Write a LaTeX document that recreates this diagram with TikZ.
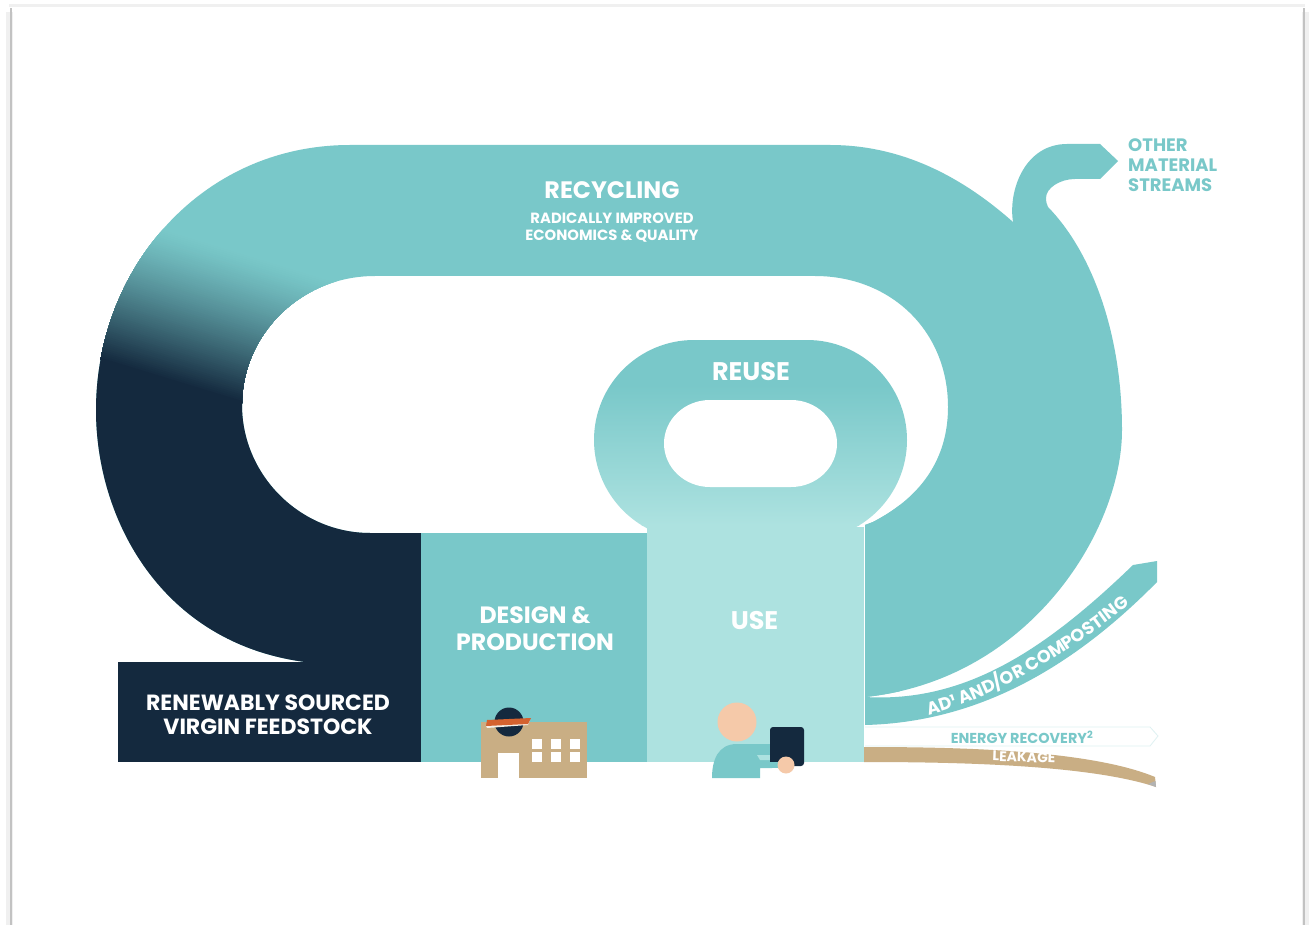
\documentclass[tikz,border=0pt]{standalone}
\usepackage{fontspec}
\setmainfont{Poppins}
\usetikzlibrary{decorations.text}
\definecolor{teal}{HTML}{79C8C9}
\definecolor{lightt}{HTML}{ADE2E0}
\definecolor{navy}{HTML}{14293E}
\definecolor{tan}{HTML}{C9AE84}
\definecolor{skin}{HTML}{F5C9A9}
\definecolor{orangeb}{HTML}{D4622F}
\tikzset{
  wlabel/.style={text=white,align=center,inner sep=0pt},
  tlabel/.style={text=teal,align=left,inner sep=0pt},
}
\newcommand{\loopouter}{(305,662) .. controls (162,643) and (96,520) .. (96,410)
  .. controls (96,270) and (200,145) .. (350,145) -- (830,145)
  .. controls (900,145) and (960,175) .. (1013,222) -- (1048,207)
  .. controls (1090,250) and (1122,330) .. (1122,430)
  .. controls (1122,530) and (1030,680) .. (865,697)}
\newcommand{\loopinner}{(865,525) -- (873,522) .. controls (925,495) and (948,455) .. (948,407)
  .. controls (948,330) and (890,276) .. (815,276) -- (375,276)
  .. controls (300,276) and (242,335) .. (242,405)
  .. controls (242,475) and (300,533) .. (370,533) -- (421,533) -- (421,662)}
\newcommand{\ringpath}{(694,340) -- (807,340) arc[start angle=-90,end angle=90,x radius=100,y radius=100]
  -- (694,540) arc[start angle=90,end angle=270,x radius=100,y radius=100] -- cycle}
\begin{document}
\begin{tikzpicture}[x=1pt,y=-1pt]
\useasboundingbox (0,0) rectangle (1309,925);
\fill[white] (0,0) rectangle (1309,925);
% page frame
\draw[black!6,line width=7pt] (9,925) -- (9,12);
\draw[black!6,line width=7pt] (1305,925) -- (1305,12);
\draw[black!6,line width=3pt] (9,6) -- (1305,6);
\draw[black!24,line width=2pt] (11,925) -- (11,8);
\draw[black!24,line width=2pt] (1304,925) -- (1304,8);
% the big loop
\begin{scope}
  \clip \loopouter -- \loopinner -- cycle;
  \fill[teal] (80,130) rectangle (1140,710);
  \begin{scope}[rotate around={-17:(170,380)}]
    \foreach \i in {0,...,71}{
      \pgfmathsetmacro{\pp}{100*pow(\i/71,1.25)}
      \fill[navy!\pp!teal] (0,237+2*\i) rectangle (600,381);
    }
    \fill[navy] (0,380) rectangle (600,800);
  \end{scope}
  \fill[teal] (421,500) rectangle (900,710);
\end{scope}
% feedstock + design boxes
\fill[navy] (118,662) rectangle (421,762);
\fill[teal] (421,533) rectangle (647,762);
% reuse ring
\begin{scope}
  \clip \ringpath;
  \shade[top color=teal,bottom color=lightt] (590,385) rectangle (910,525);
  \fill[teal] (590,335) rectangle (910,385);
  \fill[lightt] (590,525) rectangle (910,545);
\end{scope}
\fill[white] (710,400) -- (791,400) arc[start angle=-90,end angle=90,x radius=46,y radius=43.5]
  -- (710,487) arc[start angle=90,end angle=270,x radius=46,y radius=43.5] -- cycle;
% use box
\fill[lightt] (647,527) rectangle (864,762);
% other material streams arrow
\fill[teal] (1013,222) .. controls (1008,190) and (1025,144) .. (1067,144) -- (1100,144)
  -- (1118,161) -- (1100,179) -- (1075,179)
  .. controls (1060,179) and (1046,188) .. (1046,198)
  .. controls (1046,202) and (1047,205) .. (1048,207) -- (1040,260) -- cycle;
% AD arrow
\fill[teal] (865,697) .. controls (965,703) and (1045,650) .. (1133,565) -- (1157,561) -- (1157,582)
  .. controls (1085,655) and (990,722) .. (865,725) -- cycle;
% energy recovery
\draw[fill=white,draw=teal!25,line width=.8pt] (865,727) -- (1150,727) -- (1158,736) -- (1150,746) -- (865,746);
% leakage
\fill[tan] (864,747) .. controls (960,747) and (1090,750) .. (1155,777) -- (1156,787)
  .. controls (1090,765) and (960,762) .. (864,762) -- cycle;
\fill[black!30] (1148,784) -- (1155.5,781) -- (1156,787) -- cycle;
% building
\fill[tan] (481,722) rectangle (587,778);
\fill[white] (498,753) rectangle (519,778);
\foreach \wx in {532,551,570}{\foreach \wy in {739,752}{\fill[white] (\wx,\wy) rectangle ++(10,10);}}
\fill[navy] (509,722) circle[radius=14.5];
\fill[white!80!tan] (486,726) -- (530,720) -- (528,725) -- (487,728) -- cycle;
\fill[orangeb] (487,720) -- (531,718) -- (528,724) -- (486,726) -- cycle;
% person
\fill[skin] (737,722) circle[radius=19.5];
\fill[teal] (712,778) .. controls (712,760) and (718,744) .. (737,744) -- (772,744) -- (772,768)
  -- (760,768) -- (760,778) -- cycle;
\fill[lightt] (757,755) -- (770,755) -- (770,760) -- (760,760) -- cycle;
\fill[navy,rounded corners=3pt] (770,727) rectangle (804,766);
\fill[teal] (760,762) rectangle (778,768);
\fill[skin] (786,765) circle[radius=8.5];
% labels
\node[wlabel,font=\bfseries\fontsize{23.8}{24}\selectfont] (rec) at (612,190) {RECYCLING};
\node[wlabel,font=\bfseries\fontsize{14.8}{17}\selectfont] (rec2) at (612,227.5) {RADICALLY IMPROVED\\ECONOMICS \& QUALITY};
\node[wlabel,font=\bfseries\fontsize{25.5}{25}\selectfont] (reuse) at (751,372) {REUSE};
\node[wlabel,font=\bfseries\fontsize{25.5}{25}\selectfont] (use) at (754.5,621) {USE};
\node[wlabel,font=\bfseries\fontsize{23.6}{27}\selectfont] (des) at (535,629) {DESIGN \&\\PRODUCTION};
\node[wlabel,font=\bfseries\fontsize{22}{24}\selectfont] (feed) at (268,715) {RENEWABLY SOURCED\\VIRGIN FEEDSTOCK};
\node[tlabel,font=\bfseries\fontsize{18}{20}\selectfont,anchor=west] (oth) at (1128,165) {OTHER\\MATERIAL\\STREAMS};
\path[decorate,decoration={text along path,text align=center,
  text={|\bfseries\fontsize{17.6}{16}\selectfont\color{white}|AD¹ AND/OR COMPOSTING}}]
  (921,717) .. controls (990,700) and (1060,660) .. (1136,600);
\node[tlabel,font=\bfseries\fontsize{14.4}{14}\selectfont] (en) at (1022,737) {ENERGY RECOVERY\textsuperscript{2}};
\node[wlabel,font=\bfseries\fontsize{14}{14}\selectfont,rotate=-2] (leak) at (1024,757) {LEAKAGE};
\end{tikzpicture}
\end{document}
